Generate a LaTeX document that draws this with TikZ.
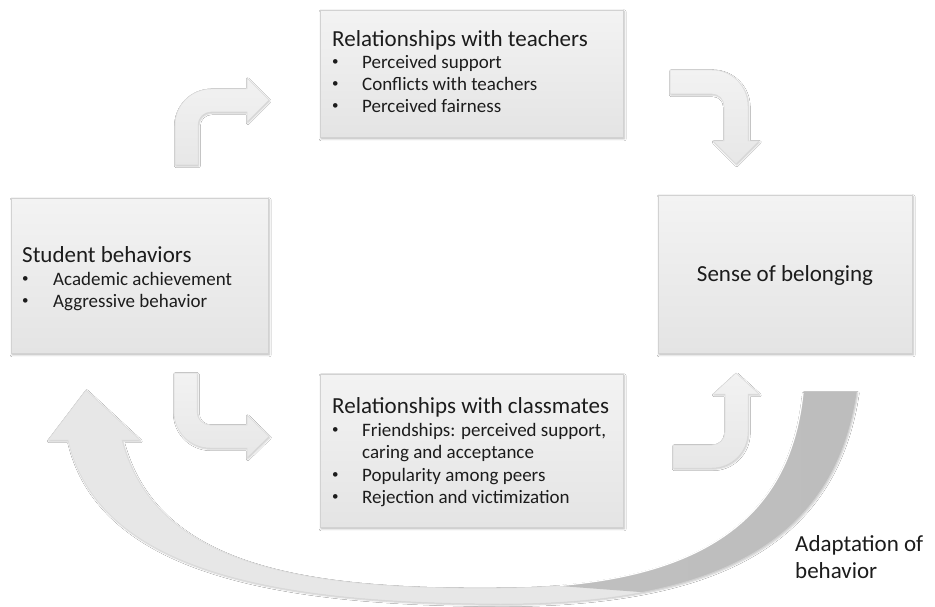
\documentclass[tikz,border=0pt]{standalone}
\usepackage{fontspec}
\setmainfont{Carlito}
\usetikzlibrary{shadows.blur}
\definecolor{txt}{HTML}{1C1C1C}
\definecolor{boxedge}{HTML}{D2D2D2}
\definecolor{boxtop}{HTML}{F3F3F3}
\definecolor{boxbot}{HTML}{E4E4E4}
\definecolor{arrtop}{HTML}{F2F2F2}
\definecolor{arrbot}{HTML}{E7E7E7}
\definecolor{arredge}{HTML}{DADADA}
\definecolor{darkband}{HTML}{C4C4C4}
\definecolor{darkband2}{HTML}{BDBDBD}
\begin{document}
\begin{tikzpicture}[x=1pt,y=-1pt,
  panel/.style={draw=boxedge, line width=0.7pt, top color=boxtop, bottom color=boxbot,
    inner sep=0pt, outer sep=0pt,
    blur shadow={shadow xshift=1.2pt, shadow yshift=-1.8pt, shadow blur radius=2pt, shadow opacity=30}},
  bent/.style={draw=arredge, line width=0.5pt, top color=arrtop, bottom color=arrbot,
    blur shadow={shadow xshift=0.8pt, shadow yshift=-1.2pt, shadow blur radius=1.5pt, shadow opacity=22}},
  ttl/.style={anchor=base west, inner sep=0pt, text=txt, font=\fontsize{23}{27}\selectfont},
  itm/.style={anchor=base west, inner sep=0pt, text=txt, font=\fontsize{19}{22}\selectfont},
  bul/.style={anchor=base west, inner sep=0pt, text=txt, font=\fontsize{13}{13}\selectfont},
]
\useasboundingbox[fill=white] (0,0) rectangle (935,607);

% big curved arrow (light part)
\path[draw=arredge, line width=0.5pt, fill=arrbot,
  blur shadow={shadow xshift=0.8pt, shadow yshift=-1.2pt, shadow blur radius=1.5pt, shadow opacity=22}]
  (68,440) .. controls (100,580) and (300,603) .. (500,604)
  .. controls (720,604) and (835,540) .. (857,392)
  -- (803,392) .. controls (790,520) and (700,587) .. (500,588)
  .. controls (300,590) and (155,565) .. (122,440)
  -- (140,440) -- (86,390) -- (48,440) -- cycle;
% dark back part of the band, tapering into the light part
\begin{scope}
  \clip (560,586) -- (760,601) -- (935,601) -- (935,380) -- (560,380) -- cycle;
  \path[left color=darkband, right color=darkband2]
    (68,440) .. controls (100,580) and (300,603) .. (500,604)
    .. controls (720,604) and (835,540) .. (857,392)
    -- (803,392) .. controls (790,520) and (700,587) .. (500,588)
    .. controls (300,590) and (155,565) .. (122,440) -- cycle;
  \draw[white, line width=1.2pt] (803,393) .. controls (790,520) and (700,587) .. (500,588);
  \draw[white!82!black, line width=0.6pt] (857,392) .. controls (835,540) and (720,604) .. (500,604);
\end{scope}

% boxes
\node[panel, minimum width=303pt, minimum height=127pt] (teach) at (471.5,73.5) {};
\node[panel, minimum width=257pt, minimum height=155pt] (stud) at (139.5,275.5) {};
\node[panel, minimum width=254pt, minimum height=158pt] (sense) at (785,274) {};
\node[panel, minimum width=303pt, minimum height=153pt] (class) at (471.5,450.5) {};

% bent arrows
\path[bent] (175,165) -- (175,125) .. controls (175,105.1) and (191.1,89) .. (211,89)
  -- (247,89) -- (247,78) -- (269,100) -- (247,122) -- (247,112) -- (211,112)
  .. controls (203.8,112) and (198,117.8) .. (198,125) -- (198,165) -- cycle;
\path[bent] (670,70) -- (712,70) .. controls (731.9,70) and (748,86.1) .. (748,106)
  -- (748,141) -- (759,141) -- (736,164) -- (713,141) -- (724,141) -- (724,106)
  .. controls (724,99.4) and (718.6,94) .. (712,94) -- (670,94) -- cycle;
\path[bent] (174,373) -- (174,412) .. controls (174,431.9) and (190.1,448) .. (210,448)
  -- (247,448) -- (247,458) -- (269,436.5) -- (247,415) -- (247,425) -- (210,425)
  .. controls (202.8,425) and (197,419.2) .. (197,412) -- (197,373) -- cycle;
\path[bent] (673,445) -- (712,445) .. controls (719.2,445) and (725,439.2) .. (725,432)
  -- (725,394) -- (713,394) -- (736,373) -- (759,394) -- (748,394) -- (748,432)
  .. controls (748,451.9) and (731.9,468) .. (712,468) -- (673,468) -- cycle;

% teachers text
\node[ttl] (t0) at (332,47) {Relationships with teachers};
\node[bul] (tb1) at (332,66) {•};
\node[itm] (t1) at (362,69) {Perceived support};
\node[bul] (tb2) at (332,88) {•};
\node[itm] (t2) at (362,91) {Conflicts with teachers};
\node[bul] (tb3) at (332,110) {•};
\node[itm] (t3) at (362,113) {Perceived fairness};

% student text
\node[ttl] (s0) at (22,262) {Student behaviors};
\node[bul] (sb1) at (22,282) {•};
\node[itm] (s1) at (53,285) {Academic achievement};
\node[bul] (sb2) at (22,304) {•};
\node[itm] (s2) at (53,307) {Aggressive behavior};

% sense text
\node[ttl, anchor=base] (b0) at (785,281) {Sense of belonging};

% classmates text
\node[ttl] (c0) at (332,413) {Relationships with classmates};
\node[bul] (cb1) at (332,433) {•};
\node[itm] (c1) at (362,436) {Friendships: perceived support,};
\node[itm] (c1b) at (362,458) {caring and acceptance};
\node[bul] (cb2) at (332,478) {•};
\node[itm] (c2) at (362,481) {Popularity among peers};
\node[bul] (cb3) at (332,500) {•};
\node[itm] (c3) at (362,503) {Rejection and victimization};

% adaptation label
\node[ttl] (a0) at (795,551) {Adaptation of};
\node[ttl] (a1) at (795,578) {behavior};
\end{tikzpicture}
\end{document}
